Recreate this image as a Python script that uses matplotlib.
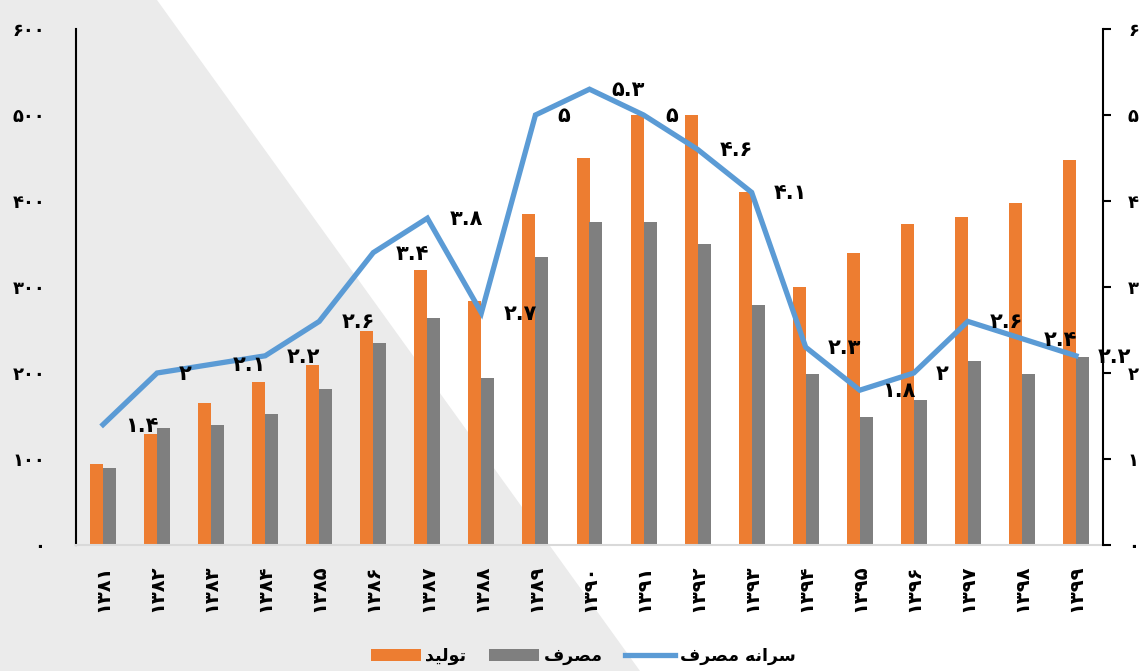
import matplotlib
matplotlib.use("Agg")
import matplotlib.pyplot as plt
from matplotlib.patches import Polygon
import numpy as np

plt.rcParams["font.family"] = ["DejaVu Sans"]
plt.rcParams["font.weight"] = "bold"

years = ["1381", "1382", "1383", "1384", "1385", "1386", "1387", "1388", "1389", "1390",
         "1391", "1392", "1393", "1394", "1395", "1396", "1397", "1398", "1399"]
production = [94, 129, 165, 189, 209, 249, 320, 284, 385, 450,
              500, 500, 410, 300, 340, 373, 381, 398, 448]
consumption = [90, 136, 139, 152, 181, 235, 264, 194, 335, 375,
               375, 350, 279, 199, 149, 169, 214, 199, 219]
per_capita = [1.4, 2.0, 2.1, 2.2, 2.6, 3.4, 3.8, 2.7, 5.0, 5.3,
              5.0, 4.6, 4.1, 2.3, 1.8, 2.0, 2.6, 2.4, 2.2]

# persian text, pre-shaped (presentation forms, visual order) since matplotlib has no RTL shaping
lbl_production = "\ufeaa\ufef4\ufedf\ufeee\ufe97"      # تولید
lbl_consumption = "\ufed1\ufeae\ufebc\ufee3"           # مصرف
lbl_per_capita = "\ufed1\ufeae\ufebc\ufee3 \ufeea\ufee7\ufe8d\ufeae\ufeb3"  # سرانه مصرف

FA = str.maketrans("0123456789", "۰۱۲۳۴۵۶۷۸۹")


def fa(v):
    s = f"{v:g}" if isinstance(v, float) else str(v)
    return s.translate(FA)


orange = "#ED7D31"
gray = "#7F7F7F"
blue = "#5B9BD5"

fig = plt.figure(figsize=(11.41, 6.71), dpi=100)

# grey diagonal band behind the chart
W, H = 1141, 671
tri = Polygon([(0, 1), (157 / W, 1), (640 / W, 0), (0, 0)], closed=True,
              transform=fig.transFigure, facecolor="#EBEBEB", edgecolor="none", zorder=-10)
fig.add_artist(tri)

ax = fig.add_axes([76 / W, (H - 545) / H, (1103 - 76) / W, (545 - 29) / H])
ax.set_facecolor("none")

x = np.arange(len(years))
bw = 0.24
ax.bar(x - bw / 2, production, bw, color=orange, label=lbl_production, zorder=2)
ax.bar(x + bw / 2, consumption, bw, color=gray, label=lbl_consumption, zorder=2)

ax.set_xlim(-0.5, len(years) - 0.5)
ax.set_ylim(0, 600)
ax.set_yticks(range(0, 601, 100))
ax.set_yticklabels([fa(v) for v in range(0, 601, 100)], fontsize=13)
ax.tick_params(axis="y", length=0, pad=22)
ax.set_xticks(x)
ax.set_xticklabels([fa(y) for y in years], rotation=90, fontsize=14)
ax.tick_params(axis="x", length=0, pad=14)

for s in ["top", "right"]:
    ax.spines[s].set_visible(False)
ax.spines["left"].set_color("black")
ax.spines["left"].set_linewidth(1.5)
ax.spines["bottom"].set_color("#D9D9D9")
ax.spines["bottom"].set_linewidth(1.5)

ax2 = ax.twinx()
ax2.set_facecolor("none")
ax2.plot(x, per_capita, color=blue, linewidth=3.8, label=lbl_per_capita,
         solid_joinstyle="miter", zorder=3)
ax2.set_ylim(0, 6)
ax2.set_yticks(range(0, 7))
ax2.set_yticklabels([fa(v) for v in range(0, 7)], fontsize=13)
ax2.tick_params(axis="y", direction="out", length=6, width=1.5, pad=12)
for s in ["top", "left", "bottom"]:
    ax2.spines[s].set_visible(False)
ax2.spines["right"].set_color("black")
ax2.spines["right"].set_linewidth(1.5)

for xi, v in zip(x, per_capita):
    ax2.annotate(fa(v), (xi, v), xytext=(22, -1), textcoords="offset pixels",
                 ha="left", va="center", fontsize=15, fontweight="bold")

h1, l1 = ax.get_legend_handles_labels()
h2, l2 = ax2.get_legend_handles_labels()
fig.legend(h1 + h2, l1 + l2, loc="center", bbox_to_anchor=(0.511, 0.022), ncol=3,
           frameon=False, fontsize=12.5, handlelength=2.9, handletextpad=0.25,
           columnspacing=1.3)

plt.savefig("out.png", dpi=100)
